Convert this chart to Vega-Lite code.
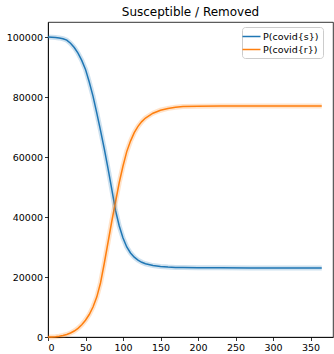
{
  "$schema": "https://vega.github.io/schema/vega-lite/v6.json",
  "autosize": {"type": "none"},
  "padding": {"left": 48, "top": 22, "right": 1, "bottom": 17},
  "width": 285,
  "height": 315,
  "title": {"text": "Susceptible / Removed", "fontSize": 12, "font": "DejaVu Sans", "fontWeight": "normal", "offset": 3, "color": "black", "anchor": "middle"},
  "data": {"values": [
    {"day":0,"value":100000,"series":"P(covid{s})"},
    {"day":5,"value":99950,"series":"P(covid{s})"},
    {"day":10,"value":99860,"series":"P(covid{s})"},
    {"day":15,"value":99700,"series":"P(covid{s})"},
    {"day":20,"value":99420,"series":"P(covid{s})"},
    {"day":25,"value":98950,"series":"P(covid{s})"},
    {"day":30,"value":97900,"series":"P(covid{s})"},
    {"day":35,"value":96500,"series":"P(covid{s})"},
    {"day":40,"value":94600,"series":"P(covid{s})"},
    {"day":45,"value":92200,"series":"P(covid{s})"},
    {"day":50,"value":89200,"series":"P(covid{s})"},
    {"day":55,"value":85000,"series":"P(covid{s})"},
    {"day":60,"value":80300,"series":"P(covid{s})"},
    {"day":65,"value":74700,"series":"P(covid{s})"},
    {"day":70,"value":68900,"series":"P(covid{s})"},
    {"day":75,"value":62800,"series":"P(covid{s})"},
    {"day":80,"value":56200,"series":"P(covid{s})"},
    {"day":85,"value":49300,"series":"P(covid{s})"},
    {"day":90,"value":42200,"series":"P(covid{s})"},
    {"day":95,"value":37000,"series":"P(covid{s})"},
    {"day":100,"value":33000,"series":"P(covid{s})"},
    {"day":105,"value":30000,"series":"P(covid{s})"},
    {"day":110,"value":28000,"series":"P(covid{s})"},
    {"day":115,"value":26600,"series":"P(covid{s})"},
    {"day":120,"value":25600,"series":"P(covid{s})"},
    {"day":125,"value":24900,"series":"P(covid{s})"},
    {"day":130,"value":24400,"series":"P(covid{s})"},
    {"day":140,"value":23800,"series":"P(covid{s})"},
    {"day":150,"value":23500,"series":"P(covid{s})"},
    {"day":160,"value":23300,"series":"P(covid{s})"},
    {"day":170,"value":23200,"series":"P(covid{s})"},
    {"day":180,"value":23150,"series":"P(covid{s})"},
    {"day":200,"value":23080,"series":"P(covid{s})"},
    {"day":230,"value":23050,"series":"P(covid{s})"},
    {"day":270,"value":23030,"series":"P(covid{s})"},
    {"day":320,"value":23020,"series":"P(covid{s})"},
    {"day":365,"value":23020,"series":"P(covid{s})"},
    {"day":0,"value":0,"series":"P(covid{r})"},
    {"day":5,"value":40,"series":"P(covid{r})"},
    {"day":10,"value":110,"series":"P(covid{r})"},
    {"day":15,"value":260,"series":"P(covid{r})"},
    {"day":20,"value":500,"series":"P(covid{r})"},
    {"day":25,"value":850,"series":"P(covid{r})"},
    {"day":30,"value":1350,"series":"P(covid{r})"},
    {"day":35,"value":2000,"series":"P(covid{r})"},
    {"day":40,"value":2900,"series":"P(covid{r})"},
    {"day":45,"value":4100,"series":"P(covid{r})"},
    {"day":50,"value":5600,"series":"P(covid{r})"},
    {"day":55,"value":7500,"series":"P(covid{r})"},
    {"day":60,"value":10000,"series":"P(covid{r})"},
    {"day":65,"value":13300,"series":"P(covid{r})"},
    {"day":70,"value":18000,"series":"P(covid{r})"},
    {"day":75,"value":24500,"series":"P(covid{r})"},
    {"day":80,"value":31500,"series":"P(covid{r})"},
    {"day":85,"value":38500,"series":"P(covid{r})"},
    {"day":90,"value":45000,"series":"P(covid{r})"},
    {"day":95,"value":51500,"series":"P(covid{r})"},
    {"day":100,"value":57000,"series":"P(covid{r})"},
    {"day":105,"value":61800,"series":"P(covid{r})"},
    {"day":110,"value":65300,"series":"P(covid{r})"},
    {"day":115,"value":68100,"series":"P(covid{r})"},
    {"day":120,"value":70200,"series":"P(covid{r})"},
    {"day":125,"value":71800,"series":"P(covid{r})"},
    {"day":130,"value":73000,"series":"P(covid{r})"},
    {"day":140,"value":74600,"series":"P(covid{r})"},
    {"day":150,"value":75600,"series":"P(covid{r})"},
    {"day":160,"value":76200,"series":"P(covid{r})"},
    {"day":170,"value":76600,"series":"P(covid{r})"},
    {"day":180,"value":76800,"series":"P(covid{r})"},
    {"day":200,"value":76950,"series":"P(covid{r})"},
    {"day":230,"value":77000,"series":"P(covid{r})"},
    {"day":270,"value":77020,"series":"P(covid{r})"},
    {"day":320,"value":77030,"series":"P(covid{r})"},
    {"day":365,"value":77030,"series":"P(covid{r})"}
  ]},
  "encoding": {
    "x": {"field": "day", "type": "quantitative", "scale": {"domain": [0, 380], "nice": false, "zero": false},
          "axis": {"title": null, "values": [0,50,100,150,200,250,300,350]}},
    "y": {"field": "value", "type": "quantitative", "scale": {"domain": [0, 105000], "nice": false},
          "axis": {"title": null, "values": [0,20000,40000,60000,80000,100000], "format": "d"}},
    "color": {"field": "series", "type": "nominal",
              "scale": {"domain": ["P(covid{s})", "P(covid{r})"], "range": ["#1f77b4", "#ff7f0e"]},
              "legend": {"title": null, "orient": "none", "legendX": 194, "legendY": 5,
                         "symbolType": "M-2,0H2", "symbolSize": 81, "symbolStrokeWidth": 1.5, "symbolOpacity": 1, "symbolFillColor": "transparent",
                         "labelFont": "DejaVu Sans", "labelFontSize": 9.5, "labelColor": "black", "labelOffset": 6,
                         "padding": 4, "rowPadding": 3, "strokeColor": "#cccccc", "fillColor": "white", "cornerRadius": 3}}
  },
  "layer": [
    {"mark": {"type": "line", "strokeWidth": 1.5}},
    {"mark": {"type": "line", "strokeWidth": 5, "opacity": 0.22}}
  ],
  "config": {
    "view": {"stroke": "black", "strokeWidth": 0.8},
    "axis": {"labelFont": "DejaVu Sans", "labelFontSize": 9.5, "labelColor": "black", "tickColor": "black",
             "domainColor": "black", "domainWidth": 0.8, "tickWidth": 0.8, "tickSize": 3.5, "grid": false, "labelPadding": 2}
  }
}
